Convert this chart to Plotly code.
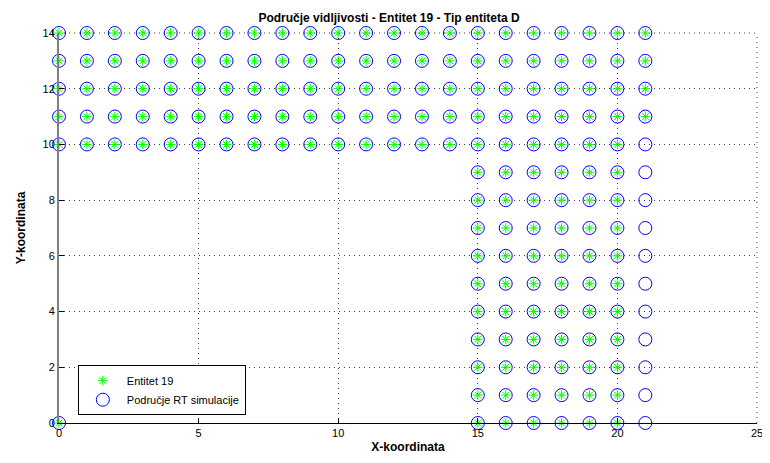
import plotly.graph_objects as go

# Blue circles: "Područje RT simulacije"
circle_x = [x for y in range(10, 15) for x in range(0, 22)] + [x for y in range(0, 10) for x in range(15, 22)] + [0]
circle_y = [y for y in range(10, 15) for x in range(0, 22)] + [y for y in range(0, 10) for x in range(15, 22)] + [0]

# Green stars: "Entitet 19"
star_x = ([x for y in range(11, 15) for x in range(0, 22)] + list(range(0, 21))
          + [x for y in range(0, 10) for x in range(15, 21)] + [0])
star_y = ([y for y in range(11, 15) for x in range(0, 22)] + [10] * 21
          + [y for y in range(0, 10) for x in range(15, 21)] + [0])

x_ticks = [0, 5, 10, 15, 20, 25]
y_ticks = [0, 2, 4, 6, 8, 10, 12, 14]

fig = go.Figure()
fig.add_trace(go.Scatter(
    x=star_x, y=star_y, mode="markers", name="Entitet 19", cliponaxis=False,
    marker=dict(symbol="asterisk-open", size=8, color="#00ff00",
                line=dict(color="#00ff00", width=1)),
))
fig.add_trace(go.Scatter(
    x=circle_x, y=circle_y, mode="markers", name="Područje RT simulacije", cliponaxis=False,
    marker=dict(symbol="circle-open", size=13, color="#0000ff",
                line=dict(color="#0000ff", width=1)),
))

grid_dash = "1px,4px"
grid_col = "#404040"
# dotted grid lines at the top and right edges (MATLAB grid at last ticks)
fig.add_shape(type="line", xref="paper", yref="paper", x0=1, x1=1, y0=0, y1=1,
              line=dict(color=grid_col, width=1, dash=grid_dash), layer="below")
fig.add_shape(type="line", xref="paper", yref="paper", x0=0, x1=1, y0=1, y1=1,
              line=dict(color=grid_col, width=1, dash=grid_dash), layer="below")

font = "Liberation Sans, Arial, sans-serif"
# page body has an 8px margin, so the figure is 8px smaller on each side
fig.update_layout(
    width=762, height=455,
    margin=dict(l=51, r=13, t=25, b=40),
    plot_bgcolor="white", paper_bgcolor="white",
    font=dict(family=font, size=11, color="#000000"),
    title=dict(text="<b>Područje vidljivosti - Entitet 19 - Tip entiteta D</b>",
               x=0.5, xanchor="center", y=0.988, yanchor="top",
               font=dict(size=12, family=font)),
    xaxis=dict(range=[0, 25], tickvals=x_ticks, ticks="inside", ticklen=5,
               tickcolor="#000000", showline=True, linecolor="#000000",
               linewidth=1, zeroline=False, showgrid=True, gridcolor=grid_col,
               griddash=grid_dash, gridwidth=1, automargin=False,
               title=dict(text="<b>X-koordinata</b>", standoff=4,
                          font=dict(size=12, family=font))),
    yaxis=dict(range=[0, 14], tickvals=y_ticks, ticks="inside", ticklen=5,
               tickcolor="#000000", showline=True, linecolor="#808080",
               linewidth=2, zeroline=False, showgrid=True, gridcolor=grid_col,
               griddash=grid_dash, gridwidth=1, automargin=False,
               title=dict(text="<b>Y-koordinata</b>", standoff=14,
                          font=dict(size=12, family=font))),
    legend=dict(x=0.027, y=0.02, xanchor="left", yanchor="bottom",
                bgcolor="white", bordercolor="#000000", borderwidth=1,
                itemwidth=38,
                font=dict(size=11, family=font), tracegroupgap=0),
    showlegend=True,
)

fig.write_html("out.html")
